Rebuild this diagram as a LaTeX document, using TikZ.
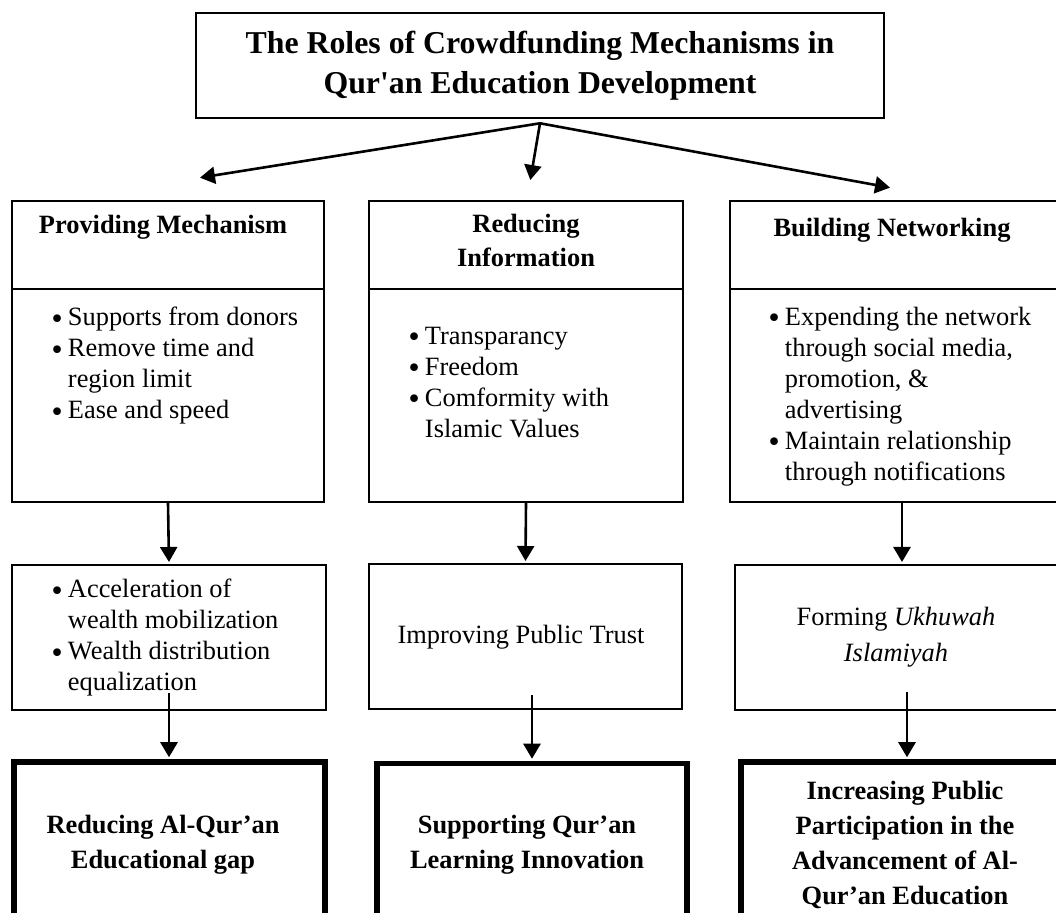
\documentclass[tikz,border=0pt]{standalone}
\usepackage{fontspec}
\setmainfont{Liberation Serif}
\newfontfamily\dotfont{DejaVu Sans}
\usepackage{tikz}
\usetikzlibrary{arrows.meta}

\newcommand{\bodyfont}{\fontsize{13.2pt}{15.5pt}\selectfont}
\newcommand{\bul}{\raisebox{-1.2pt}{\dotfont •}}
\newcommand{\blist}[1]{\begin{tabular}{@{}l@{\hspace{1.5pt}}l@{}}#1\end{tabular}}

\tikzset{
	box/.style={draw, line width=1pt, inner sep=0pt},
	goalbox/.style={draw, line width=2.75pt, inner sep=0pt},
	arr/.style={line width=1.3pt, shorten >=1pt, -{Triangle[length=7.5pt,width=8.5pt]}},
	txt/.style={inner sep=0pt, font=\bodyfont},
	head/.style={inner sep=0pt, align=center, font={\bodyfont\bfseries}},
	goal/.style={inner sep=0pt, align=center, font={\fontsize{13.2pt}{17.5pt}\selectfont\bfseries}}
}

\begin{document}
\begin{tikzpicture}[x=0.5pt, y=-0.5pt]
		\useasboundingbox (0,0) rectangle (1056,913);
		\clip (0,0) rectangle (1056,913);
		
		\node[box, line width=1.3pt, minimum width=344pt, minimum height=52.5pt, align=center, font={\fontsize{15.9pt}{20pt}\selectfont\bfseries}] (title) at (540,65.5) {The Roles of Crowdfunding Mechanisms in\\Qur\textquotesingle an Education Development};
		\coordinate (hub) at ([yshift=-2pt]title.south);
		
		\node[box, minimum width=156pt, minimum height=44pt] (h1) at (168,245) {};
		\node[box, minimum width=156pt, minimum height=106.5pt] (b1) at (168,395.5) {};
		\node[box, minimum width=157pt, minimum height=44pt] (h2) at (526,245) {};
		\node[box, minimum width=157pt, minimum height=106.5pt] (b2) at (526,395.5) {};
		\node[box, minimum width=172pt, minimum height=44pt] (h3) at (902,245) {};
		\node[box, minimum width=172pt, minimum height=106.5pt] (b3) at (902,395.5) {};
		
		\node[head] (ht1) at (163,227) {Providing Mechanism};
		\node[head, font={\fontsize{13.2pt}{17pt}\selectfont\bfseries}] (ht2) at (526,240) {Reducing\\Information};
		\node[head] (ht3) at (892,230) {Building Networking};
		
		\node[txt, anchor=west] (bt1) at (49,366) {\blist{\bul & Supports from donors\\ \bul & Remove time and\\ & region limit\\ \bul & Ease and speed}};
		\node[txt, anchor=west] (bt2) at (406,384.5) {\blist{\bul & Transparancy\\ \bul & Freedom\\ \bul & Comformity with\\ & Islamic Values}};
		\node[txt, anchor=west] (bt3) at (766,396.5) {\blist{\bul & Expending the network\\ & through social media,\\ & promotion, \&\\ & advertising\\ \bul & Maintain relationship\\ & through notifications}};
		
		\node[box, minimum width=157pt, minimum height=72.5pt] (c1) at (169,637.5) {};
		\node[box, minimum width=156.5pt, minimum height=72.5pt] (c2) at (525.5,636.5) {};
		\node[box, minimum width=167pt, minimum height=72.5pt] (c3) at (902,637.5) {};
		
		\node[txt, anchor=west] (ct1) at (49,638) {\blist{\bul & Acceleration of\\ & wealth mobilization\\ \bul & Wealth distribution\\ & equalization}};
		\node[txt] (ct2) at (521,637) {Improving Public Trust};
		\node[txt, align=center, font={\fontsize{13.2pt}{18pt}\selectfont}] (ct3) at (896,637) {Forming \textit{Ukhuwah}\\\textit{Islamiyah}};
		
		\node[goalbox, minimum width=155.5pt, minimum height=99pt] (d1) at (169.5,861) {};
		\node[goalbox, minimum width=155pt, minimum height=99pt] (d2) at (532,862.5) {};
		\node[goalbox, minimum width=161pt, minimum height=99pt] (d3) at (902,861) {};
		
		\node[goal] (dt1) at (163,845) {Reducing Al-Qur’an\\Educational gap};
		\node[goal] (dt2) at (527,845) {Supporting Qur’an\\Learning Innovation};
		\node[goal] (dt3) at (905,845) {Increasing Public\\Participation in the\\Advancement of Al-\\Qur’an Education};
		
		\coordinate (t1) at (198,178);
		\coordinate (t2) at (530,182);
		\coordinate (t3) at (892,188);
		\draw[arr] (hub) -- (t1);
		\draw[arr] (hub) -- (t2);
		\draw[arr] (hub) -- (t3);
		
		\draw[arr] (b1.south) -- (c1.north);
		\draw[arr] (b2.south) -- (c2.north);
		\draw[arr] (b3.south) -- (c3.north);
		
		\coordinate (s1) at (169,693);
		\coordinate (s2) at (532,695);
		\coordinate (s3) at (907,692);
		\draw[arr] (s1) -- (s1 |- d1.north);
		\draw[arr] (s2) -- (s2 |- d2.north);
		\draw[arr] (s3) -- (s3 |- d3.north);
\end{tikzpicture}
\end{document}
